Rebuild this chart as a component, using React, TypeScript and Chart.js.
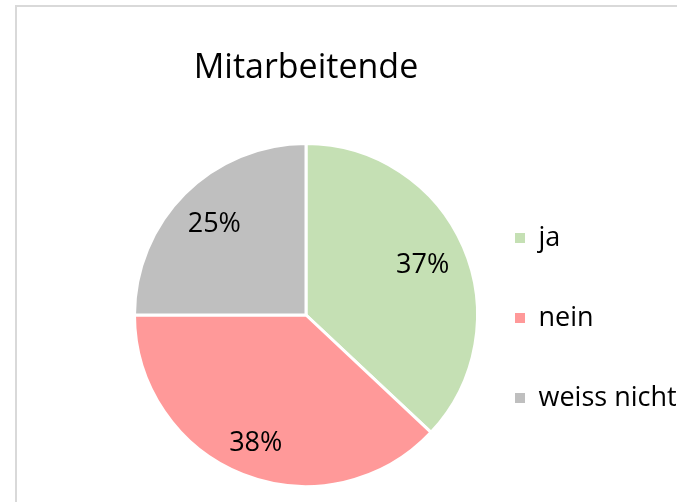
import { useEffect, useRef } from "react";
import { Chart, registerables } from "chart.js";

Chart.register(...registerables);

const chartTitle = "Mitarbeitende";
const categories = ["ja", "nein", "weiss nicht"];
const values = [37, 38, 25];
const sliceColors = ["#C5E0B4", "#FF9999", "#BFBFBF"];

const FONT = "'Open Sans', sans-serif";

const sliceLabelPlugin = {
  id: "sliceLabels",
  afterDatasetsDraw(chart: any) {
    const ctx = chart.ctx;
    const meta = chart.getDatasetMeta(0);
    const data = chart.data.datasets[0].data as number[];
    const total = data.reduce((a: number, b: number) => a + b, 0);
    ctx.save();
    ctx.font = `27px ${FONT}`;
    ctx.fillStyle = "#000000";
    ctx.textAlign = "center";
    ctx.textBaseline = "middle";
    meta.data.forEach((arc: any, i: number) => {
      const p = arc.getProps(["x", "y", "startAngle", "endAngle", "outerRadius"], true);
      const mid = (p.startAngle + p.endAngle) / 2;
      const text = Math.round((data[i] / total) * 100) + "%";
      const hw = ctx.measureText(text).width / 2;
      const hh = 10;
      const c = Math.cos(mid);
      const s = Math.sin(mid);
      const d = p.outerRadius - 16 - (hw * Math.abs(c) + hh * Math.abs(s));
      ctx.fillText(text, p.x + c * d, p.y + s * d + 1);
    });
    ctx.restore();
  },
};

export default function App() {
  const canvasRef = useRef<HTMLCanvasElement | null>(null);

  useEffect(() => {
    if (!canvasRef.current) return;
    const chart = new Chart(canvasRef.current, {
      type: "pie",
      data: {
        labels: categories,
        datasets: [
          {
            data: values,
            backgroundColor: sliceColors,
            borderColor: "#ffffff",
            borderWidth: 3,
          },
        ],
      },
      options: {
        responsive: false,
        animation: false,
        layout: { padding: { left: 107, right: 0, top: 0, bottom: 14 } },
        plugins: {
          tooltip: { enabled: false },
          title: {
            display: true,
            text: chartTitle,
            fullSize: false,
            color: "#000000",
            font: { family: FONT, size: 34, weight: "normal", lineHeight: 1.2 },
            padding: { top: 47.6, bottom: 53.6 },
          },
          legend: {
            display: true,
            position: "right",
            align: "center",
            fullSize: false,
            maxWidth: 172,
            title: {
              display: true,
              text: "",
              font: { family: FONT, size: 10, lineHeight: 4.9 },
              padding: 0,
            },
            labels: {
              boxWidth: 10,
              boxHeight: 10,
              padding: 10,
              color: "#000000",
              font: { family: FONT, size: 27, lineHeight: 70 / 27 },
              generateLabels: (ch: any) =>
                (ch.data.labels as string[]).map((l, i) => ({
                  text: [l],
                  fillStyle: sliceColors[i],
                  strokeStyle: sliceColors[i],
                  lineWidth: 0,
                  hidden: false,
                  index: i,
                  fontColor: "#000000",
                })),
            },
          },
        },
      },
      plugins: [sliceLabelPlugin],
    });
    return () => chart.destroy();
  }, []);

  return (
    <div
      style={{
        position: "fixed",
        left: 0,
        top: 0,
        width: 677,
        height: 502,
        overflow: "hidden",
        background: "#ffffff",
      }}
    >
      <div
        style={{
          position: "absolute",
          left: 15,
          top: 5,
          width: 700,
          height: 520,
          borderTop: "2px solid #d9d9d9",
          borderLeft: "2px solid #d9d9d9",
        }}
      />
      <canvas
        ref={canvasRef}
        width={677}
        height={502}
        style={{ position: "absolute", left: 0, top: 0 }}
      />
    </div>
  );
}
